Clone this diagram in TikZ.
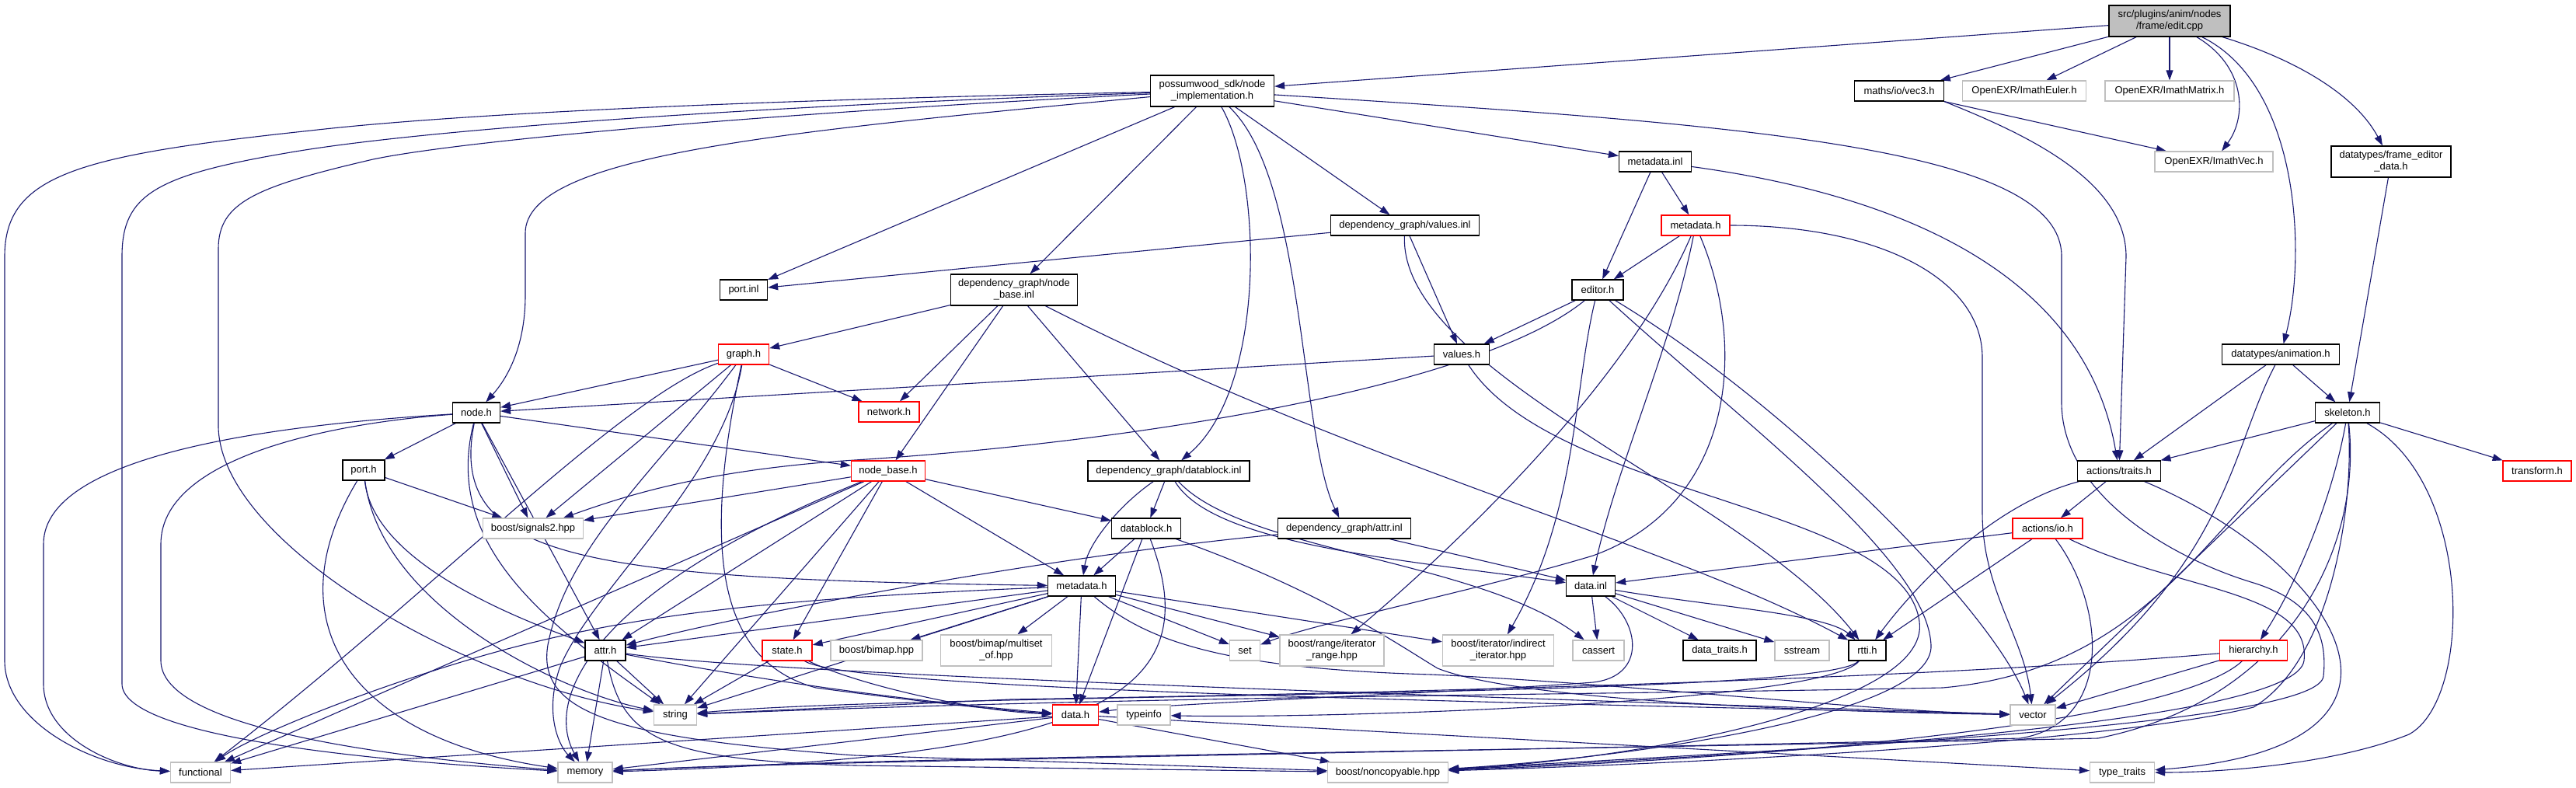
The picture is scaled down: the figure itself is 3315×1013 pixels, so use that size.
\documentclass[tikz,border=0pt]{standalone}
\usepackage{fontspec}
\setmainfont{Liberation Sans}
\usepackage{tikz}
\usetikzlibrary{arrows.meta}
\definecolor{depblue}{HTML}{191970}
\definecolor{extgray}{HTML}{BFBFBF}
\definecolor{truncred}{HTML}{FF0000}
\definecolor{rootgray}{HTML}{BFBFBF}
\pgfdeclarelayer{bg}
\pgfsetlayers{bg,main}
\tikzset{
  filebox/.style={draw, fill=white, inner sep=0pt, align=center, line width=1.3pt, minimum height=26pt},
  incbox/.style={filebox, draw=black},
  extbox/.style={filebox, draw=extgray},
  truncbox/.style={filebox, draw=truncred},
  rootbox/.style={filebox, draw=black, fill=rootgray},
  inc/.style={depblue, line width=1.1pt, -{Triangle[length=13pt,width=9pt]}},
}

\begin{document}
\begin{tikzpicture}[x=1pt, y=-1pt, font=\fontsize{13}{15}\selectfont]
  \useasboundingbox (0,0) rectangle (3315,1013);

  \node[rootbox, minimum width=156pt, minimum height=40pt] (edit) at (2792,27) {src/plugins/anim/nodes\\/frame/edit.cpp};
  \node[incbox, minimum width=159pt, minimum height=40pt] (nodeimpl) at (1560,117) {possumwood\_sdk/node\\\_implementation.h};
  \node[incbox, minimum width=115pt] (vecthree) at (2444,117) {maths/io/vec3.h};
  \node[extbox, minimum width=159pt] (imeuler) at (2605,117) {OpenEXR/ImathEuler.h};
  \node[extbox, minimum width=166pt] (immatrix) at (2792,117) {OpenEXR/ImathMatrix.h};
  \node[extbox, minimum width=152pt] (imvec) at (2849,208) {OpenEXR/ImathVec.h};
  \node[incbox, minimum width=154pt, minimum height=40pt] (frameed) at (3077,208) {datatypes/frame\_editor\\\_data.h};
  \node[incbox, minimum width=93pt] (metainl) at (2130,208) {metadata.inl};
  \node[incbox, minimum width=191pt] (valuesinl) at (1808,290) {dependency\_graph/values.inl};
  \node[truncbox, minimum width=88pt] (metared) at (2182,290) {metadata.h};
  \node[incbox, minimum width=61pt] (portinl) at (957,373) {port.inl};
  \node[incbox, minimum width=163pt, minimum height=40pt] (nodebaseinl) at (1305,373) {dependency\_graph/node\\\_base.inl};
  \node[incbox, minimum width=66pt] (editor) at (2056,373) {editor.h};
  \node[truncbox, minimum width=65pt] (graph) at (957,456) {graph.h};
  \node[incbox, minimum width=71pt] (values) at (1881,456) {values.h};
  \node[incbox, minimum width=151pt] (animation) at (2935,456) {datatypes/animation.h};
  \node[incbox, minimum width=61pt] (nodeh) at (613,531) {node.h};
  \node[truncbox, minimum width=78pt] (network) at (1144,530) {network.h};
  \node[incbox, minimum width=83pt] (skeleton) at (3021,531) {skeleton.h};
  \node[incbox, minimum width=54pt] (porth) at (468,605) {port.h};
  \node[truncbox, minimum width=95pt] (nodebase) at (1143,606) {node\_base.h};
  \node[incbox, minimum width=208pt] (datablockinl) at (1504,606) {dependency\_graph/datablock.inl};
  \node[incbox, minimum width=107pt] (traits) at (2727,606) {actions/traits.h};
  \node[truncbox, minimum width=88pt] (transform) at (3265,606) {transform.h};
  \node[extbox, minimum width=129pt] (signals) at (686,680) {boost/signals2.hpp};
  \node[incbox, minimum width=89pt] (datablock) at (1475,680) {datablock.h};
  \node[incbox, minimum width=171pt] (attrinl) at (1730,680) {dependency\_graph/attr.inl};
  \node[truncbox, minimum width=90pt] (io) at (2635,680) {actions/io.h};
  \node[incbox, minimum width=87pt] (metadata) at (1392,754) {metadata.h};
  \node[incbox, minimum width=63pt] (datainl) at (2047,754) {data.inl};
  \node[incbox, minimum width=52pt] (attr) at (779,837) {attr.h};
  \node[truncbox, minimum width=64pt] (state) at (1013,837) {state.h};
  \node[extbox, minimum width=118pt] (bimap) at (1128,837) {boost/bimap.hpp};
  \node[extbox, minimum width=143pt, minimum height=40pt] (multiset) at (1282,837) {boost/bimap/multiset\\\_of.hpp};
  \node[extbox, minimum width=39pt] (setlib) at (1602,837) {set};
  \node[extbox, minimum width=134pt, minimum height=40pt] (range) at (1714,837) {boost/range/iterator\\\_range.hpp};
  \node[extbox, minimum width=143pt, minimum height=40pt] (indirect) at (1928,837) {boost/iterator/indirect\\\_iterator.hpp};
  \node[extbox, minimum width=66pt] (cassert) at (2057,837) {cassert};
  \node[incbox, minimum width=94pt] (datatraits) at (2213,837) {data\_traits.h};
  \node[extbox, minimum width=70pt] (sstream) at (2319,837) {sstream};
  \node[incbox, minimum width=48pt] (rtti) at (2403,837) {rtti.h};
  \node[truncbox, minimum width=87pt] (hierarchy) at (2900,837) {hierarchy.h};
  \node[extbox, minimum width=55pt] (stringlib) at (869,920) {string};
  \node[truncbox, minimum width=59pt] (datah) at (1384,920) {data.h};
  \node[extbox, minimum width=68pt] (typeinfo) at (1472,920) {typeinfo};
  \node[extbox, minimum width=58pt] (vectorlib) at (2616,920) {vector};
  \node[extbox, minimum width=77pt] (functional) at (258,994) {functional};
  \node[extbox, minimum width=70pt] (memory) at (753,994) {memory};
  \node[extbox, minimum width=155pt] (noncopy) at (1786,994) {boost/noncopyable.hpp};
  \node[extbox, minimum width=83pt] (typetraits) at (2731,994) {type\_traits};

  \begin{pgfonlayer}{bg}
  \fill[white] (0,0) rectangle (3315,1013);

  % edit.cpp
  \draw[inc] (edit) -- (nodeimpl);
  \draw[inc] (edit) -- (vecthree);
  \draw[inc] (edit) -- (imeuler);
  \draw[inc] (edit) -- (immatrix);
  \draw[inc] (edit) .. controls (2890,85) and (2892,150) .. (imvec);
  \draw[inc] (edit) .. controls (2960,110) and (2968,330) .. (animation);
  \draw[inc] (edit) .. controls (2950,75) and (3030,120) .. (frameed);

  % node_implementation.h
  \draw[inc] (nodeimpl) .. controls (1000,128) and (600,145) .. (400,168) .. controls (100,200) and (6,225) .. (6,330) -- (6,850) .. controls (6,930) and (120,988) .. (functional);
  \draw[inc] (nodeimpl) .. controls (1000,135) and (560,165) .. (380,195) .. controls (200,225) and (157,250) .. (157,330) -- (157,880) .. controls (157,945) and (450,978) .. (memory);
  \draw[inc] (nodeimpl) .. controls (1000,145) and (600,180) .. (480,205) .. controls (330,240) and (281,260) .. (281,320) -- (281,550) .. controls (285,700) and (600,880) .. (stringlib);
  \draw[inc] (nodeimpl) .. controls (1000,170) and (676,200) .. (676,300) -- (676,380) .. controls (676,450) and (650,490) .. (nodeh);
  \draw[inc] (nodeimpl) -- (portinl);
  \draw[inc] (nodeimpl) -- (nodebaseinl);
  \draw[inc] (nodeimpl) .. controls (1625,230) and (1630,500) .. (datablockinl);
  \draw[inc] (nodeimpl) .. controls (1680,230) and (1672,560) .. (attrinl);
  \draw[inc] (nodeimpl) -- (valuesinl);
  \draw[inc] (nodeimpl) -- (metainl);
  \draw[inc] (nodeimpl) .. controls (2250,160) and (2653,190) .. (2653,330) -- (2653,520) .. controls (2655,640) and (2800,720) .. (2900,750) .. controls (2980,775) and (2995,820) .. (2990,870) .. controls (2985,930) and (2400,960) .. (noncopy);

  \draw[inc] (vecthree.south east) -- (imvec);
  \draw[inc] (vecthree.south east) .. controls (2600,170) and (2736,230) .. (2736,330) -- (traits);
  \draw[inc] (frameed) -- (skeleton);

  \draw[inc] (metainl) -- (editor);
  \draw[inc] (metainl) -- (metared);
  \draw[inc] (metainl) .. controls (2400,245) and (2680,330) .. (traits);

  \draw[inc] (valuesinl) -- (portinl);
  \draw[inc] (valuesinl) -- (values);
  \draw[inc] (valuesinl) .. controls (1800,480) and (2250,640) .. (rtti);

  \draw[inc] (metared) -- (editor);
  \draw[inc] (metared) .. controls (2420,290) and (2551,360) .. (2551,460) -- (2551,660) .. controls (2551,760) and (2605,820) .. (vectorlib);
  \draw[inc] (metared) .. controls (2150,450) and (2080,600) .. (datainl);
  \draw[inc] (metared) .. controls (2100,480) and (1900,680) .. (range);
  \draw[inc] (metared) .. controls (2250,450) and (2230,650) .. (2050,715) .. controls (1900,760) and (1700,800) .. (setlib);

  \draw[inc] (editor) -- (values);
  \draw[inc] (editor) .. controls (1900,500) and (1450,570) .. (1100,592) .. controls (900,605) and (800,640) .. (signals);
  \draw[inc] (editor) .. controls (2025,500) and (2030,660) .. (indirect);
  \draw[inc] (editor) .. controls (2300,520) and (2560,780) .. (vectorlib);
  \draw[inc] (editor) .. controls (2250,550) and (2480,720) .. (2485,830) .. controls (2490,920) and (2100,975) .. (noncopy);

  \draw[inc] (values) -- (nodeh);
  \draw[inc] (values) .. controls (2000,640) and (2450,650) .. (2470,800) .. controls (2485,910) and (2100,978) .. (noncopy);

  \draw[inc] (graph) -- (nodeh);
  \draw[inc] (graph) -- (network);
  \draw[inc] (graph) -- (signals);
  \draw[inc] (graph) .. controls (800,510) and (560,760) .. (functional);
  \draw[inc] (graph) .. controls (930,620) and (760,760) .. (720,860) .. controls (700,920) and (720,960) .. (memory);
  \draw[inc] (graph) .. controls (850,600) and (730,700) .. (705,830) .. controls (690,920) and (800,950) .. (1100,972) -- (noncopy);
  \draw[inc] (graph) .. controls (905,700) and (920,850) .. (1050,885) .. controls (1200,905) and (1300,915) .. (datah);

  \draw[inc] (nodebaseinl) -- (graph);
  \draw[inc] (nodebaseinl) -- (network);
  \draw[inc] (nodebaseinl) -- (nodebase);
  \draw[inc] (nodebaseinl) -- (datablockinl);
  \draw[inc] (nodebaseinl) .. controls (1750,600) and (2150,700) .. (rtti);

  \draw[inc] (nodeh) .. controls (380,545) and (56,580) .. (56,700) -- (56,880) .. controls (56,950) and (150,990) .. (functional);
  \draw[inc] (nodeh) .. controls (420,545) and (207,590) .. (207,700) -- (207,850) .. controls (207,930) and (450,970) .. (memory);
  \draw[inc] (nodeh) -- (porth);
  \draw[inc] (nodeh) -- (signals);
  \draw[inc] (nodeh) -- (nodebase);
  \draw[inc] (nodeh) -- (attr);
  \draw[inc] (nodeh) .. controls (575,720) and (750,745) .. (metadata);
  \draw[inc] (nodeh) .. controls (570,700) and (700,800) .. (stringlib);

  \draw[inc] (porth) -- (signals);
  \draw[inc] (porth) .. controls (480,720) and (650,790) .. (attr);
  \draw[inc] (porth) .. controls (490,780) and (720,890) .. (stringlib);
  \draw[inc] (porth) .. controls (350,800) and (450,950) .. (memory);

  \draw[inc] (nodebase) -- (datablock);
  \draw[inc] (nodebase) -- (metadata);
  \draw[inc] (nodebase) -- (state);
  \draw[inc] (nodebase) -- (functional);
  \draw[inc] (nodebase) .. controls (760,760) and (700,900) .. (memory);
  \draw[inc] (nodebase) -- (stringlib);
  \draw[inc] (nodebase) -- (attr);
  \draw[inc] (nodebase) -- (signals);

  \draw[inc] (datablockinl) -- (datablock);
  \draw[inc] (datablockinl) .. controls (1440,650) and (1400,700) .. (metadata);
  \draw[inc] (datablockinl) .. controls (1560,700) and (1800,720) .. (datainl);
  \draw[inc] (datablockinl) .. controls (1600,710) and (1900,720) .. (cassert);

  \draw[inc] (datablock) -- (metadata);
  \draw[inc] (datablock) -- (datah);
  \draw[inc] (datablock) .. controls (1560,900) and (1400,975) .. (memory);
  \draw[inc] (datablock) .. controls (1700,760) and (1800,830) .. (1850,860) .. controls (1950,900) and (2300,915) .. (vectorlib);

  \draw[inc] (attrinl) .. controls (1400,710) and (1000,780) .. (attr);
  \draw[inc] (attrinl) -- (datainl);

  \draw[inc] (traits) -- (io);
  \draw[inc] (traits) .. controls (2560,650) and (2460,760) .. (rtti);
  \draw[inc] (traits) .. controls (3000,720) and (3170,960) .. (typetraits);

  \draw[inc] (io) -- (datainl);
  \draw[inc] (io) -- (rtti);
  \draw[inc] (io) .. controls (2710,780) and (2720,930) .. (2600,950) .. controls (2000,965) and (1000,980) .. (memory);
  \draw[inc] (io) .. controls (2800,760) and (2975,760) .. (2965,850) .. controls (2955,930) and (2300,970) .. (noncopy);

  \draw[inc] (metadata) -- (attr);
  \draw[inc] (metadata) -- (state);
  \draw[inc] (metadata) -- (bimap);
  \draw[inc] (metadata) -- (multiset);
  \draw[inc] (metadata) -- (setlib);
  \draw[inc] (metadata) -- (range);
  \draw[inc] (metadata) -- (indirect);
  \draw[inc] (metadata) -- (datah);
  \draw[inc] (metadata) .. controls (1470,820) and (1560,860) .. (1842,868) .. controls (2100,880) and (2400,915) .. (vectorlib);
  \draw[inc] (metadata) .. controls (1000,770) and (800,790) .. (600,850) .. controls (450,895) and (320,950) .. (functional);
  \draw[inc] (metadata) -- (stringlib);

  \draw[inc] (datainl) -- (cassert);
  \draw[inc] (datainl) -- (datatraits);
  \draw[inc] (datainl) -- (sstream);
  \draw[inc] (datainl) .. controls (2200,780) and (2350,790) .. (rtti);
  \draw[inc] (datainl) .. controls (2110,800) and (2120,870) .. (2050,878) .. controls (1900,890) and (1500,905) .. (datah);

  \draw[inc] (attr) -- (functional);
  \draw[inc] (attr) -- (memory);
  \draw[inc] (attr) -- (stringlib);
  \draw[inc] (attr) .. controls (1000,880) and (1200,905) .. (datah);
  \draw[inc] (attr) .. controls (800,950) and (850,978) .. (1100,985) -- (noncopy);
  \draw[inc] (attr) .. controls (1000,870) and (2000,900) .. (vectorlib);

  \draw[inc] (state) -- (stringlib);
  \draw[inc] (state) .. controls (1100,890) and (2000,905) .. (vectorlib);
  \draw[inc] (state) .. controls (1100,880) and (1250,915) .. (datah);

  \draw[inc] (rtti) .. controls (2350,900) and (1200,890) .. (stringlib);
  \draw[inc] (rtti) .. controls (2350,905) and (1700,925) .. (typeinfo);

  \draw[inc] (datah) -- (functional);
  \draw[inc] (datah) -- (memory);
  \draw[inc] (datah) -- (noncopy);
  \draw[inc] (datah) -- (typetraits);

  \draw[inc] (hierarchy) .. controls (2400,880) and (1600,895) .. (1300,900) -- (stringlib);
  \draw[inc] (hierarchy) -- (vectorlib);
  \draw[inc] (hierarchy) .. controls (2800,930) and (2300,975) .. (noncopy);

  \draw[inc] (skeleton) -- (traits);
  \draw[inc] (skeleton) -- (transform);
  \draw[inc] (skeleton) .. controls (3000,650) and (2950,760) .. (hierarchy);
  \draw[inc] (skeleton) -- (vectorlib);
  \draw[inc] (skeleton) .. controls (2850,650) and (2780,860) .. (2500,885) .. controls (2000,895) and (1500,895) .. (stringlib);
  \draw[inc] (skeleton) .. controls (3040,700) and (2950,900) .. (2700,950) .. controls (2000,965) and (1100,975) .. (memory);
  \draw[inc] (skeleton) .. controls (3030,650) and (3000,850) .. (2900,910) .. controls (2700,960) and (2100,985) .. (noncopy);
  \draw[inc] (skeleton) .. controls (3183,620) and (3183,900) .. (3100,945) .. controls (3000,985) and (2850,994) .. (typetraits);

  \draw[inc] (animation) -- (traits);
  \draw[inc] (animation) -- (skeleton);
  \draw[inc] (animation) .. controls (2870,580) and (2870,720) .. (vectorlib);
  \end{pgfonlayer}
\end{tikzpicture}
\end{document}
